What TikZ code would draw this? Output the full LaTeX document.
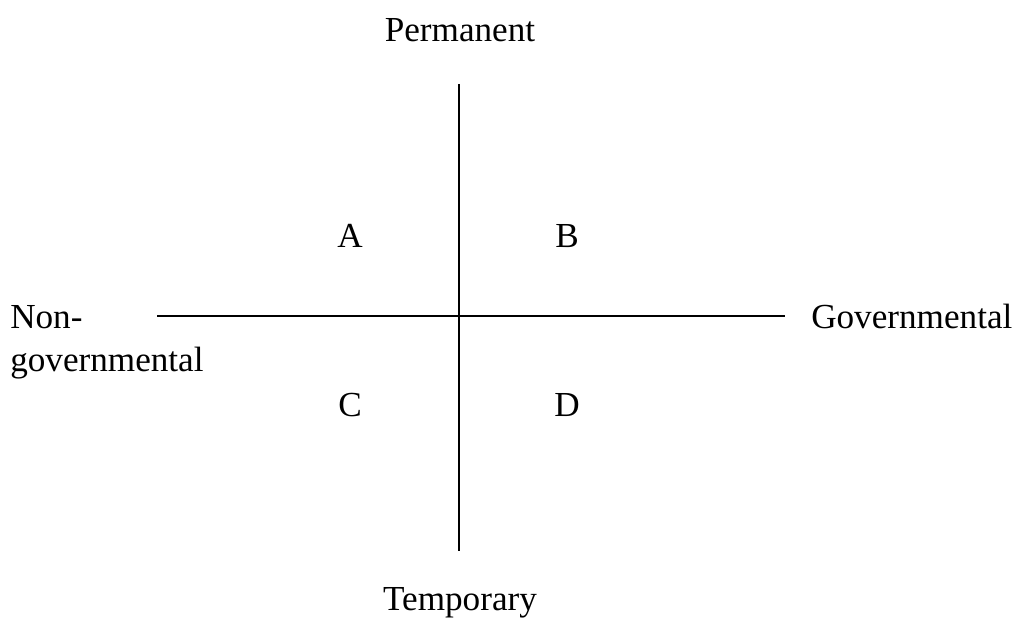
\documentclass[tikz,border=0pt]{standalone}
\usepackage{fontspec}
\setmainfont{Liberation Serif}
\usetikzlibrary{positioning}

\begin{document}
\begin{tikzpicture}[
    x=0.025cm, y=-0.025cm,
    axislabel/.style={inner sep=0pt, font=\fontsize{25}{31}\selectfont},
    quadrant/.style={inner sep=0pt, anchor=base, font=\fontsize{25}{31}\selectfont},
    axis/.style={line width=0.05cm}
]
    \useasboundingbox (0,0) rectangle (1020,630);
    % axis ends
    \coordinate (top) at (459,84);
    \coordinate (bottom) at (459,551);
    \coordinate (left) at (157,316);
    \coordinate (right) at (785,316);

    \node[axislabel, anchor=base] (permanent) at (460,42) {Permanent};
    \node[axislabel, anchor=base] (temporary) at (460,610) {Temporary};
    \node[axislabel, anchor=north west, align=left] (nongov) at (10,305) {Non-\\governmental};
    \node[axislabel, anchor=base west] (gov) at (811,328) {Governmental};

    \node[quadrant] (A) at (350,248) {A};
    \node[quadrant] (B) at (567,248) {B};
    \node[quadrant] (C) at (350,416) {C};
    \node[quadrant] (D) at (567,416) {D};

    \draw[axis] (top) -- (bottom);
    \draw[axis] (left) -- (right);
\end{tikzpicture}
\end{document}
